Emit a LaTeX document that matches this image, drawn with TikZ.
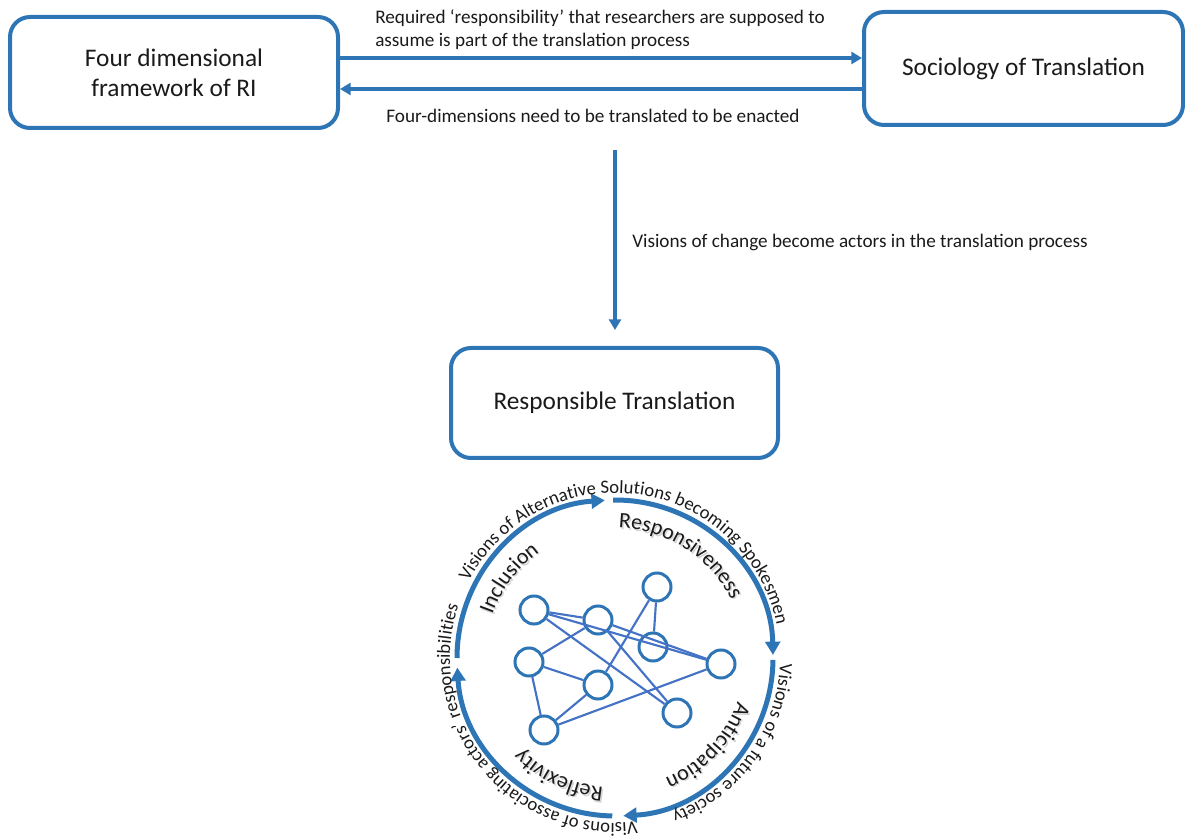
\documentclass[tikz,border=0pt]{standalone}
\usepackage{fontspec}
\setmainfont{Carlito}
\usetikzlibrary{arrows.meta,decorations.text}
\definecolor{boxblue}{HTML}{2E75B6}
\definecolor{netblue}{HTML}{4472C4}
\definecolor{txt}{HTML}{1A1A1A}
\definecolor{shade}{HTML}{D4D4D4}
\begin{document}
\begin{tikzpicture}[x=0.75pt,y=0.75pt,
  box/.style={draw=boxblue, line width=3pt, rounded corners=15pt, align=center,
    text=txt, font=\fontsize{19}{22.5}\selectfont},
  lbl/.style={inner sep=0pt, text=txt, font=\fontsize{14.4}{17.25}\selectfont},
  conn/.style={draw=boxblue, line width=3pt, -{Triangle[length=8pt,width=9pt]}},
  ring/.style={draw=boxblue, line width=3.75pt, -{Triangle[length=10pt,width=11pt]}},
  agent/.style={circle, draw=boxblue, line width=2.25pt, minimum size=21pt, inner sep=0pt},
  link/.style={draw=netblue, line width=1.6pt},
  outer/.style={decorate, decoration={text along path, text align=center,
    text={|\fontsize{14}{16}\selectfont\color{txt}|#1}}},
  inner/.style={decorate, decoration={text along path, text align=center,
    text={|\fontsize{16.5}{18}\selectfont\color{txt}|#1}}},
  innershade/.style={decorate, decoration={text along path, text align=center,
    text={|\fontsize{16.5}{18}\selectfont\color{shade}|#1}}}
]
\useasboundingbox (0,0) rectangle (1185,839);

% boxes
\node[box, minimum width=246pt, minimum height=83.25pt] (A) at (174,766.5)
  {Four dimensional\\framework of RI};
\node[box, minimum width=239.25pt, minimum height=84.75pt] (B) at (1023.5,770.5)
  {Sociology of Translation};
\node[box, minimum width=245.25pt, minimum height=82.5pt] (C) at (614.5,436)
  {Responsible Translation};

% horizontal connectors
\coordinate (ya) at (0,781);
\coordinate (yb) at (0,750);
\draw[conn] (A.east |- ya) -- (B.west |- ya);
\draw[conn] (B.west |- yb) -- (A.east |- yb);

\node[lbl, anchor=west, align=left] (l1) at (375,809.5)
  {Required ‘responsibility’ that researchers are supposed to\\assume is part of the translation process};
\node[lbl] (l2) at (593,723) {Four-dimensions need to be translated to be enacted};

% vertical connector
\coordinate (v1) at (615,689);
\coordinate (v2) at (615,509);
\draw[conn] (v1) -- (v2);
\node[lbl, anchor=west] (l3) at (632,597) {Visions of change become actors in the translation process};

% ring
\coordinate (O) at (615,181);
\coordinate (Os) at (616.5,179.5);
\draw[ring] ([shift={(180:158)}]O) arc[start angle=180, end angle=93.7, radius=158];
\draw[ring] ([shift={(90.7:158)}]O) arc[start angle=90.7, end angle=1.1, radius=158];
\draw[ring] ([shift={(-0.7:158)}]O) arc[start angle=-0.7, end angle=-87, radius=158];
\draw[ring] ([shift={(-91:158)}]O) arc[start angle=-91, end angle=-176.5, radius=158];

% outer texts
\path[outer={Visions of Alternative Solutions becoming Spokesmen}]
  ([shift={(185:165)}]O) arc[start angle=185, end angle=-21, radius=165];
\path[outer={Visions of a future society}]
  ([shift={(25:165)}]O) arc[start angle=25, end angle=-97, radius=165];
\path[outer={Visions of associating actors' responsibilities}]
  ([shift={(-40:165)}]O) arc[start angle=-40, end angle=-241, radius=165];

% inner texts (soft shadow, then text)
\path[innershade={Responsiveness}]
  ([shift={(105:130)}]Os) arc[start angle=105, end angle=10, radius=130];
\path[innershade={Anticipation}]
  ([shift={(0:130)}]Os) arc[start angle=0, end angle=-87, radius=130];
\path[innershade={Reflexivity}]
  ([shift={(-80:130)}]Os) arc[start angle=-80, end angle=-151, radius=130];
\path[innershade={Inclusion}]
  ([shift={(175:130)}]Os) arc[start angle=175, end angle=111, radius=130];
\path[inner={Responsiveness}]
  ([shift={(105:130)}]O) arc[start angle=105, end angle=10, radius=130];
\path[inner={Anticipation}]
  ([shift={(0:130)}]O) arc[start angle=0, end angle=-87, radius=130];
\path[inner={Reflexivity}]
  ([shift={(-80:130)}]O) arc[start angle=-80, end angle=-151, radius=130];
\path[inner={Inclusion}]
  ([shift={(175:130)}]O) arc[start angle=175, end angle=111, radius=130];

% network
\node[agent] (n1) at (534,229) {};
\node[agent] (n2) at (598,219) {};
\node[agent] (n3) at (657,252) {};
\node[agent] (n4) at (653,192) {};
\node[agent] (n5) at (529,177) {};
\node[agent] (n6) at (598,154) {};
\node[agent] (n7) at (721,175) {};
\node[agent] (n8) at (677,126) {};
\node[agent] (n9) at (544,109) {};
\draw[link] (n1) -- (n2);
\draw[link] (n1) -- (n7);
\draw[link] (n1) -- (n8);
\draw[link] (n2) -- (n7);
\draw[link] (n2) -- (n5);
\draw[link] (n2) -- (n8);
\draw[link] (n3) -- (n4);
\draw[link] (n3) -- (n6);
\draw[link] (n5) -- (n6);
\draw[link] (n5) -- (n9);
\draw[link] (n6) -- (n9);
\draw[link] (n9) -- (n7);
\end{tikzpicture}
\end{document}
